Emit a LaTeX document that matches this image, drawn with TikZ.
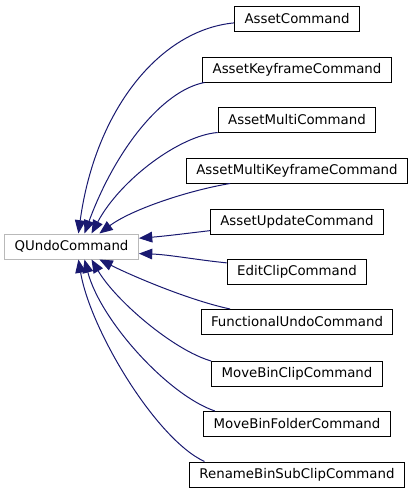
\documentclass[tikz,border=0pt]{standalone}
\usepackage{fontspec}
\setmainfont{DejaVu Sans}
\usetikzlibrary{arrows.meta}
\definecolor{edgeblue}{HTML}{191970}
\tikzset{
  classbox/.style={draw=black, line width=0.75pt, fill=white, minimum height=18.75pt, inner xsep=7.5pt, inner ysep=0pt, font=\fontsize{10}{12}\selectfont},
  basebox/.style={classbox, draw=gray!55},
  inherit/.style={edgeblue, line width=0.75pt, -{Triangle[length=10pt,width=8pt]}}
}
\begin{document}
\begin{tikzpicture}[x=0.75pt,y=-0.75pt]
\useasboundingbox (0,0) rectangle (413,493);

\node[basebox] (undo) at (71.5,246.5) {QUndoCommand};

\node[classbox] (asset) at (297,18.5) {AssetCommand};
\node[classbox] (assetkey) at (297,69.5) {AssetKeyframeCommand};
\node[classbox] (assetmulti) at (297,119.5) {AssetMultiCommand};
\node[classbox] (assetmultikey) at (297,170.5) {AssetMultiKeyframeCommand};
\node[classbox] (assetupdate) at (297,221.5) {AssetUpdateCommand};
\node[classbox] (editclip) at (297,271.5) {EditClipCommand};
\node[classbox] (functional) at (297,322) {FunctionalUndoCommand};
\node[classbox] (moveclip) at (297,374) {MoveBinClipCommand};
\node[classbox] (movefolder) at (297,424) {MoveBinFolderCommand};
\node[classbox] (renamesub) at (297,474.5) {RenameBinSubClipCommand};

\draw[inherit] (asset.184) .. controls +(-74,7) and +(17,-124) .. (undo.62);
\draw[inherit] (assetkey.188) .. controls +(-42,8) and +(31,-84) .. (undo.45);
\draw[inherit] (assetmulti.south west) .. controls +(-38,3) and +(29,-54) .. (undo.33);
\draw[inherit] (assetmultikey.191) .. controls +(-42,7) and +(32,-24) .. (undo.25);
\draw[inherit] (assetupdate.186) .. controls +(-25,3) and +(25,-2) .. (undo.7);
\draw[inherit] (editclip.173) .. controls +(-30,-3) and +(30,1) .. (undo.-6);
\draw[inherit] (functional.169) .. controls +(-42,-9) and +(32,16) .. (undo.-25);
\draw[inherit] (moveclip.north west) .. controls +(-38,-11) and +(24,41) .. (undo.-33);
\draw[inherit] (movefolder.171) .. controls +(-47,-16) and +(16,61) .. (undo.-45);
\draw[inherit] (renamesub.172) .. controls +(-48,-22) and +(12,71) .. (undo.-62);
\end{tikzpicture}
\end{document}
